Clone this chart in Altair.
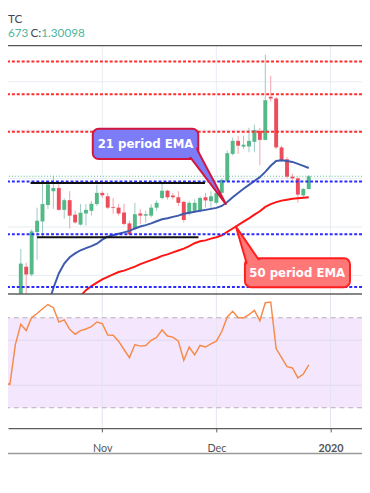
import altair as alt
import numpy as np
import pandas as pd

# ---------------- data ----------------
OPEN = [1.2321, 1.2636, 1.2604, 1.2779, 1.2823, 1.2891, 1.2948, 1.2961, 1.2871, 1.2911,
        1.2851, 1.2810, 1.2856, 1.2867, 1.2895, 1.2941, 1.2927, 1.2882, 1.2880, 1.2860,
        1.2815, 1.2793, 1.2856, 1.2847, 1.2847, 1.2880, 1.2920, 1.2950, 1.2930, 1.2923,
        1.2904, 1.2856, 1.2867, 1.2867, 1.2923, 1.2907, 1.2900, 1.2941, 1.2988, 1.3102,
        1.3156, 1.3132, 1.3133, 1.3152, 1.3197, 1.3160, 1.3338, 1.3331, 1.3129, 1.3080,
        1.3008, 1.3001, 1.2931, 1.2957]
HIGH = [1.2709, 1.2653, 1.2790, 1.2880, 1.2988, 1.2988, 1.3012, 1.2981, 1.2919, 1.2948,
        1.2867, 1.2895, 1.2895, 1.2907, 1.2975, 1.2948, 1.2941, 1.2920, 1.2896, 1.2896,
        1.2826, 1.2900, 1.2874, 1.2867, 1.2894, 1.2910, 1.2981, 1.2954, 1.2941, 1.2948,
        1.2907, 1.2907, 1.2914, 1.2927, 1.2941, 1.2948, 1.2961, 1.3001, 1.3116, 1.3170,
        1.3177, 1.3177, 1.3210, 1.3223, 1.3210, 1.3513, 1.3425, 1.3338, 1.3136, 1.3089,
        1.3021, 1.3008, 1.2961, 1.3015]
LOW = [1.2301, 1.2503, 1.2596, 1.2665, 1.2754, 1.2875, 1.2875, 1.2867, 1.2834, 1.2794,
       1.2814, 1.2806, 1.2806, 1.2847, 1.2887, 1.2920, 1.2874, 1.2855, 1.2847, 1.2806,
       1.2766, 1.2786, 1.2813, 1.2819, 1.2840, 1.2867, 1.2914, 1.2914, 1.2914, 1.2887,
       1.2819, 1.2847, 1.2860, 1.2860, 1.2880, 1.2880, 1.2894, 1.2934, 1.2984, 1.3096,
       1.3102, 1.3122, 1.3109, 1.3109, 1.3055, 1.3158, 1.3318, 1.3122, 1.3069, 1.3001,
       1.2995, 1.2900, 1.2920, 1.2954]
CLOSE = [1.2649, 1.2604, 1.2782, 1.2826, 1.2895, 1.2976, 1.2961, 1.2871, 1.2911, 1.2847,
         1.2819, 1.2859, 1.2871, 1.2896, 1.2941, 1.2931, 1.2880, 1.2879, 1.2856, 1.2813,
         1.2770, 1.2853, 1.2847, 1.2853, 1.2880, 1.2900, 1.2950, 1.2923, 1.2923, 1.2900,
         1.2829, 1.2900, 1.2900, 1.2920, 1.2910, 1.2927, 1.2941, 1.2995, 1.3105, 1.3156,
         1.3136, 1.3140, 1.3156, 1.3201, 1.3160, 1.3324, 1.3331, 1.3129, 1.3076, 1.3008,
         1.3001, 1.2934, 1.2957, 1.30098]

EMA21_START = 4
EMA21 = [1.2402, 1.2475, 1.2548, 1.2608, 1.2649, 1.2675, 1.2691, 1.2704, 1.2713, 1.2721,
         1.2731, 1.2748, 1.2760, 1.2766, 1.2772, 1.2778, 1.2784, 1.2794, 1.2802, 1.2808,
         1.2815, 1.2824, 1.2832, 1.2836, 1.2842, 1.2847, 1.2855, 1.2859, 1.2863, 1.2867,
         1.2871, 1.2875, 1.2879, 1.2887, 1.2903, 1.2923, 1.2941, 1.2958, 1.2974, 1.2990,
         1.3006, 1.3028, 1.3053, 1.3073, 1.3076, 1.3073, 1.3069, 1.3061, 1.3053, 1.3044]
EMA50_START = 10
EMA50 = [1.2495, 1.2515, 1.2539, 1.2556, 1.2570, 1.2584, 1.2594, 1.2604, 1.2614, 1.2620,
         1.2628, 1.2636, 1.2647, 1.2655, 1.2663, 1.2671, 1.2681, 1.2687, 1.2695, 1.2703,
         1.2711, 1.2721, 1.2733, 1.2741, 1.2745, 1.2752, 1.2758, 1.2766, 1.2780, 1.2794,
         1.2808, 1.2822, 1.2836, 1.2851, 1.2865, 1.2883, 1.2895, 1.2903, 1.2909, 1.2913,
         1.2917, 1.2919, 1.2921, 1.2923]
RSI_START = -3
RSI = [41.0, 40.4, 58.1,
       67.1, 64.3, 70.1, 71.9, 74.0, 75.9, 74.5, 68.1, 69.1, 64.9,
       62.7, 64.3, 65.0, 66.1, 68.1, 67.4, 62.3, 62.2, 59.6, 55.9,
       52.3, 58.1, 57.4, 57.7, 60.0, 61.3, 64.6, 61.9, 61.4, 59.6,
       51.1, 57.0, 53.5, 57.7, 57.0, 58.4, 59.6, 63.9, 70.4, 72.9,
       70.0, 70.0, 71.4, 73.3, 68.7, 76.7, 77.0, 56.3, 52.3, 48.3,
       47.7, 43.3, 45.0, 49.1]

TICK_IDX = [15, 36, 57]
TICK_LABELS = ["Nov", "Dec", "2020"]
PRICE_GRID = [1.26, 1.28, 1.30, 1.32, 1.34]
RED_LEVELS = [1.3484, 1.3349, 1.3194]
BLUE_LEVELS = [1.2988, 1.2770, 1.2552]
LAST_PRICE = 1.30098
SR_START = [1.8, 3.0]
SR_END = [33.9, 32.7]
SR_PRICE = [1.2982, 1.2758]
RSI_BAND = [30, 70]
RSI_GRID = [40, 60]

CALLOUT_TEXT = ["21 period EMA", "50 period EMA"]
BOX_X1 = [13.25, 41.25]
BOX_X2 = [32.67, 60.59]
BOX_TOP = [1.32061, 1.26708]
BOX_BOTTOM = [1.30809, 1.25516]
TEXT_X = [22.96, 50.88]
TEXT_Y = [1.31435, 1.26114]
TAIL_X = [[30.75, 32.33, 37.75], [39.59, 41.60, 44.05]]
TAIL_TOP = [[1.31010, 1.31253, 1.28950], [1.28021, 1.27366, 1.26566]]
TAIL_BOTTOM = [[1.31010, 1.30546, 1.28950], [1.28021, 1.26485, 1.26566]]
BOX_FILL = ["#7b7cf6", "#ff7878"]
BOX_STROKE = ["#d4163f", "#ff1e1e"]

HEADER_LINE1 = [("TC", "#434651")]
HEADER_LINE2 = [("673", "#4cb59c"), ("C:", "#434651"), ("1.30098", "#4cb59c")]

# ---------------- layout ----------------
W, H = 362, 424
TOP_LINE_Y, SEP_Y, BOTTOM_LINE_Y = 33, 287, 450
X_DOM = [-1.4526, 61.901]
PRICE_DOM = [1.19697, 1.36828]
RSI_DOM = [21.0, 205.35]

UP, DOWN = "#53b987", "#eb4d5c"
UP_WICK, DOWN_WICK = "#9cc9c3", "#f3a2aa"
GRID = "#e6edf3"

XS = alt.Scale(domain=X_DOM, nice=False, zero=False)
PS = alt.Scale(domain=PRICE_DOM, nice=False, zero=False)
RS = alt.Scale(domain=RSI_DOM, nice=False, zero=False)
label_expr = "".join(f"datum.value == {v} ? '{l}' : " for v, l in zip(TICK_IDX, TICK_LABELS)) + "''"
XAXIS = alt.Axis(values=TICK_IDX, labelExpr=label_expr, grid=False, title=None,
                 domainColor="#5c5c5c", domainWidth=1.5, tickColor="#5c5c5c", tickSize=4,
                 labelColor="#555555", labelFont="Lato", labelFontSize=11, labelPadding=11,
                 labelFlush=False,
                 labelFontWeight={"condition": {"test": f"datum.value == {TICK_IDX[-1]}", "value": "bold"},
                                  "value": "normal"})


def X(f):
    return alt.X(f"{f}:Q", scale=XS, axis=XAXIS)


def YP(f):
    return alt.Y(f"{f}:Q", scale=PS, axis=None)


def YR(f):
    return alt.Y(f"{f}:Q", scale=RS, axis=None)


candles = pd.DataFrame({"i": np.arange(len(OPEN)), "open": OPEN, "high": HIGH,
                        "low": LOW, "close": CLOSE})
candles["dir"] = np.where(candles["close"] >= candles["open"], "up", "down")
ema21 = pd.DataFrame({"i": np.arange(EMA21_START, EMA21_START + len(EMA21)), "v": EMA21})
ema50 = pd.DataFrame({"i": np.arange(EMA50_START, EMA50_START + len(EMA50)), "v": EMA50})
rsi = pd.DataFrame({"i": np.arange(RSI_START, RSI_START + len(RSI)), "v": RSI})
ticks = pd.DataFrame({"t": TICK_IDX})
sr = pd.DataFrame({"x1": SR_START, "x2": SR_END, "p": SR_PRICE})

# ---------------- main price panel ----------------
main_layers = [
    alt.Chart(pd.DataFrame({"p": PRICE_GRID})).mark_rule(color=GRID, strokeWidth=1).encode(y=YP("p")),
    alt.Chart(ticks).mark_rule(color=GRID, strokeWidth=1).encode(
        x=X("t"), y=alt.value(TOP_LINE_Y), y2=alt.value(SEP_Y)),
]
for d, wc in [("up", UP_WICK), ("down", DOWN_WICK)]:
    main_layers.append(alt.Chart(candles).transform_filter(f"datum.dir == '{d}'").mark_rule(
        color=wc, strokeWidth=1).encode(x=X("i"), y=YP("low"), y2=alt.Y2("high")))
for d, bc in [("up", UP), ("down", DOWN)]:
    main_layers.append(alt.Chart(candles).transform_filter(f"datum.dir == '{d}'").mark_bar(
        color=bc, size=4).encode(x=X("i"), y=YP("open"), y2=alt.Y2("close")))

main_layers += [
    alt.Chart(ema21).mark_line(color="#3d5aab", strokeWidth=2).encode(x=X("i"), y=YP("v")),
    alt.Chart(ema50).mark_line(color="#ff1414", strokeWidth=2).encode(x=X("i"), y=YP("v")),
    alt.Chart(pd.DataFrame({"p": RED_LEVELS})).mark_rule(
        color="#ff2b2b", strokeWidth=2, strokeDash=[3, 2]).encode(y=YP("p")),
    alt.Chart(pd.DataFrame({"p": BLUE_LEVELS})).mark_rule(
        color="#2b2bff", strokeWidth=2, strokeDash=[3, 2]).encode(y=YP("p")),
    alt.Chart(pd.DataFrame({"p": [LAST_PRICE]})).mark_rule(
        color=UP, strokeWidth=1, strokeDash=[1, 2]).encode(y=YP("p")),
    alt.Chart(sr).mark_rule(color="#111111", strokeWidth=2).encode(
        x=X("x1"), x2=alt.X2("x2"), y=YP("p")),
]

for k in range(2):
    box = pd.DataFrame({"x1": [BOX_X1[k]], "x2": [BOX_X2[k]], "top": [BOX_TOP[k]],
                        "bottom": [BOX_BOTTOM[k]]})
    tail = pd.DataFrame({"x": TAIL_X[k], "top": TAIL_TOP[k], "bottom": TAIL_BOTTOM[k]})
    lab = pd.DataFrame({"x": [TEXT_X[k]], "y": [TEXT_Y[k]], "t": [CALLOUT_TEXT[k]]})
    main_layers += [
        alt.Chart(box).mark_rect(cornerRadius=6, fill=BOX_FILL[k], stroke=BOX_STROKE[k],
                                 strokeWidth=2).encode(
            x=X("x1"), x2=alt.X2("x2"), y=YP("top"), y2=alt.Y2("bottom")),
        alt.Chart(tail).mark_area(orient="vertical", fill=BOX_FILL[k], stroke=BOX_STROKE[k],
                                  strokeWidth=2, strokeJoin="round").encode(
            x=X("x"), y=YP("top"), y2=alt.Y2("bottom")),
        alt.Chart(box).mark_rect(cornerRadius=5, fill=BOX_FILL[k], xOffset=2, x2Offset=-2,
                                 yOffset=2, y2Offset=-2).encode(
            x=X("x1"), x2=alt.X2("x2"), y=YP("top"), y2=alt.Y2("bottom")),
        alt.Chart(lab).mark_text(color="white", font="DejaVu Sans", fontWeight="bold",
                                 fontSize=12, align="center", baseline="middle").encode(
            x=X("x"), y=YP("y"), text="t:N"),
    ]
main = alt.layer(*main_layers)

# ---------------- RSI panel ----------------
rsi_layers = [
    alt.Chart(pd.DataFrame({"a": [0]})).mark_rect(color="white").encode(
        x=alt.value(0), x2=alt.value(W), y=alt.value(SEP_Y), y2=alt.value(H)),
    alt.Chart(pd.DataFrame({"lo": [RSI_BAND[0]], "hi": [RSI_BAND[1]]})).mark_rect(
        color="#f4e7fd").encode(x=alt.value(0), x2=alt.value(W), y=YR("hi"), y2=alt.Y2("lo")),
    alt.Chart(pd.DataFrame({"v": RSI_GRID})).mark_rule(color="#e1d8ee", strokeWidth=1).encode(y=YR("v")),
    alt.Chart(ticks).mark_rule(color="#e3e3f0", strokeWidth=1).encode(
        x=X("t"), y=alt.value(SEP_Y), y2=alt.value(H)),
    alt.Chart(pd.DataFrame({"v": RSI_BAND})).mark_rule(
        color="#b5acb7", strokeWidth=1, strokeDash=[5, 4]).encode(y=YR("v")),
    alt.Chart(rsi).mark_line(color="#f58b4b", strokeWidth=1.5, clip=True).encode(x=X("i"), y=YR("v")),
]
rsi_panel = alt.layer(*rsi_layers)

# ---------------- frame & header ----------------
def hline(y, color, w):
    return alt.Chart(pd.DataFrame({"a": [0]})).mark_rule(color=color, strokeWidth=w).encode(
        x=alt.value(0), x2=alt.value(W), y=alt.value(y))


def htext(t, x, y, color):
    return alt.Chart(pd.DataFrame({"t": [t]})).mark_text(
        color=color, font="Lato", fontSize=12, align="left", baseline="alphabetic").encode(
        x=alt.value(x), y=alt.value(y), text="t:N")


frame = alt.layer(
    hline(TOP_LINE_Y, "#555555", 1.5),
    hline(SEP_Y, "#5e5e5e", 1.5),
    hline(BOTTOM_LINE_Y, "#9a9a9a", 1.5),
    htext(HEADER_LINE1[0][0], 0, 10, HEADER_LINE1[0][1]),
    htext(HEADER_LINE2[0][0], 0, 24, HEADER_LINE2[0][1]),
    htext(HEADER_LINE2[1][0], 23, 24, HEADER_LINE2[1][1]),
    htext(HEADER_LINE2[2][0], 34, 24, HEADER_LINE2[2][1]),
)

chart = alt.layer(main, rsi_panel, frame).resolve_scale(y="independent").properties(
    width=W, height=H,
    autosize=alt.AutoSizeParams(type="none"),
    padding={"left": 0, "top": 0, "right": 0, "bottom": 61},
    background="white",
).configure_view(strokeWidth=0)

chart.save("out.html", embed_options={"renderer": "svg", "actions": False})
